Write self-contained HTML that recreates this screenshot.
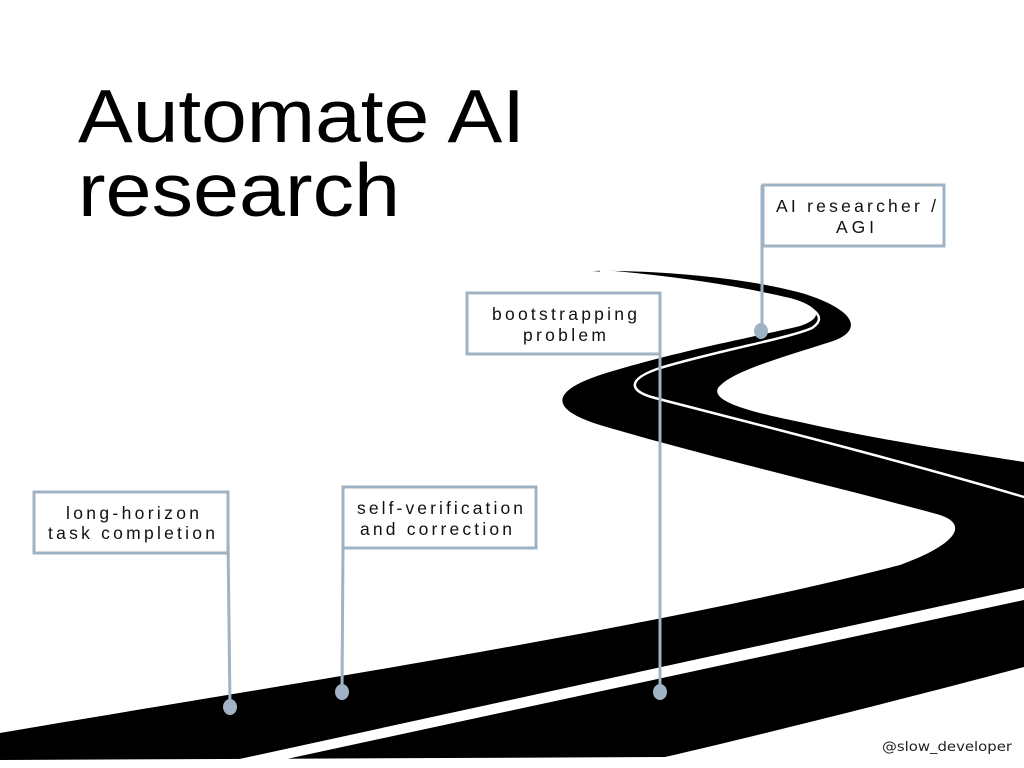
<!DOCTYPE html>
<html><head><meta charset="utf-8"><style>
html,body{margin:0;padding:0;background:#fff;width:1024px;height:768px;overflow:hidden}
svg{display:block}
</style></head><body>
<svg width="1024" height="768" viewBox="0 0 1024 768" xmlns="http://www.w3.org/2000/svg">
<rect width="1024" height="768" fill="#fff"/>
<text x="78" y="142" font-family="Liberation Sans, sans-serif" font-size="75" fill="#000" textLength="447" lengthAdjust="spacingAndGlyphs">Automate AI</text>
<text x="78" y="216" font-family="Liberation Sans, sans-serif" font-size="75" fill="#000" textLength="322" lengthAdjust="spacingAndGlyphs">research</text>

<path fill="#000" d="M0,733 C250,690 650,630 900,565 C955,545 970,525 940,515
 C850,490 700,455 600,425 C545,408 555,390 600,375 C680,350 760,336 800,326
 C825,318 820,306 790,298 C730,284 660,275 592,271
 C660,270 750,278 805,294 C860,312 862,332 830,342
 C780,358 730,372 718,388 C712,400 740,410 800,422 C880,440 960,452 1024,462
 L1024,667 C900,700 760,735 665,757 L0,760 Z"/>
<path fill="none" stroke="#fff" stroke-width="2.5" d="M1024,497 C900,460 720,415 655,398 C625,390 630,378 660,368 C720,350 790,338 812,328 C830,316 812,304 770,295 C720,284 660,276 600,271"/>
<path fill="#fff" d="M235,760 L1024,588 L1024,600 L282,760 Z"/>

<g stroke="#9fb3c4" stroke-width="3" fill="#fff">
<rect x="34" y="492" width="194" height="61"/>
<rect x="343" y="487" width="193" height="61"/>
<rect x="467" y="293" width="193" height="61"/>
<rect x="763" y="185" width="181" height="61"/>
<line x1="228" y1="540" x2="230" y2="705"/>
<line x1="343" y1="548" x2="342" y2="690"/>
<line x1="660" y1="330" x2="660" y2="690"/>
<line x1="762" y1="185" x2="762" y2="330"/>
</g>
<g fill="#9fb3c4">
<ellipse cx="230" cy="707" rx="7" ry="8"/>
<ellipse cx="342" cy="692" rx="7" ry="8"/>
<ellipse cx="660" cy="692" rx="7" ry="8"/>
<ellipse cx="761" cy="331" rx="7" ry="8"/>
</g>
<g font-family="Liberation Sans, sans-serif" font-size="17.5" fill="#111">
<text x="66" y="519" textLength="133" lengthAdjust="spacing">long-horizon</text>
<text x="48" y="539" textLength="167" lengthAdjust="spacing">task completion</text>
<text x="357" y="514" textLength="166" lengthAdjust="spacing">self-verification</text>
<text x="360" y="535" textLength="152" lengthAdjust="spacing">and correction</text>
<text x="492" y="320" textLength="145" lengthAdjust="spacing">bootstrapping</text>
<text x="523" y="341" textLength="83" lengthAdjust="spacing">problem</text>
<text x="776" y="212" textLength="160" lengthAdjust="spacing">AI researcher /</text>
<text x="836" y="233" textLength="38" lengthAdjust="spacing">AGI</text>
</g>
<text x="882" y="751" textLength="130" lengthAdjust="spacingAndGlyphs" font-family="DejaVu Sans, sans-serif" font-size="13" fill="#222">@slow_developer</text>
</svg>
</body></html>
